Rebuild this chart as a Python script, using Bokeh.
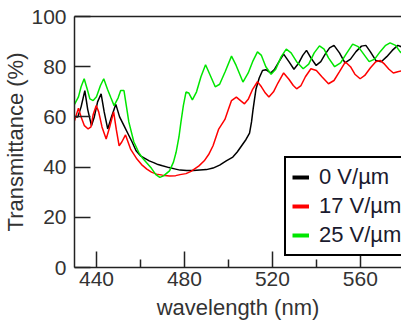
from bokeh.plotting import figure
from bokeh.models import Range1d, FixedTicker, LinearAxis, Legend, LegendItem
from bokeh.embed import file_html
from bokeh.resources import INLINE

# ---- data ----
wl_0 = [430, 431.5, 433, 434.7, 436, 437.7, 439, 440.5, 442.1, 443.5, 445.1, 446.8, 448.8, 450.5,
        452.5, 454.5, 456.2, 458, 460, 462, 464, 466, 468, 470, 473, 476, 478, 481, 484, 487, 490,
        493, 496, 499, 502, 504, 506, 508, 509.6, 510.5, 511.2, 512.5, 514, 515.5, 517, 519.2, 521,
        523, 525.1, 527.5, 529.8, 532, 533.8, 535.5, 537.5, 539.9, 542, 544, 546, 548, 550.5, 553,
        555.5, 558, 560.5, 562.5, 564.5, 567, 569.5, 572, 574.5, 577, 580]
t_0 = [60, 60, 64, 70.5, 63, 56.5, 60, 66, 69.2, 62, 55.2, 60, 65, 60,
       56.5, 53, 50, 46.5, 44.5, 43.5, 42.5, 41.8, 41, 40.5, 39.8, 39.2, 38.8, 38.6, 38.6, 38.8, 39,
       39.6, 40.8, 42.5, 44, 46, 48.5, 51, 53.5, 58, 63, 71, 75.5, 78.5, 78.8, 77.5, 79,
       82, 85, 82, 79, 81.5, 84.5, 86.5, 83.5, 80.5, 82, 85, 87.5, 88.5, 85.5, 81.5,
       83, 86, 88.2, 88.5, 86, 82.5, 82, 84, 86.5, 88.5, 87.5]

wl_17 = [430, 431.8, 433, 434.5, 436.2, 437.5, 438.5, 439.9, 441, 442.5, 444.4, 446, 447.8, 449,
         450.3, 451.5, 453.2, 455.5, 458.4, 460.5, 462.9, 465, 467.3, 470, 473.2, 476, 478, 480.7,
         483, 486.6, 489, 491, 493, 495.5, 498.4, 500, 501.4, 503.6, 505.5, 507.3, 509, 511, 513.2,
         515, 516.8, 518.4, 520.5, 522.5, 525.1, 527.5, 529.5, 531, 533, 535, 537.5, 540, 542.5,
         545.5, 548, 550.5, 553.2, 555.5, 557.5, 559.9, 562, 564.5, 567, 569, 571, 573, 575, 577, 580]
t_17 = [58.5, 63.5, 60, 56.5, 55.2, 56, 61, 64.5, 62, 56, 51.2, 56, 62, 55,
        48.5, 50, 52.8, 47.2, 43.2, 41, 39.2, 38, 37.2, 36.8, 36.5, 36.6, 37, 37.4,
        38.3, 40.5, 42.5, 45, 48.5, 55, 59, 63, 66.5, 67.9, 66.5, 65.2, 67, 71, 74,
        72, 69.5, 67.9, 70, 73.5, 77.5, 75, 72.5, 71.2, 72.5, 76, 79.2, 78.5, 76,
        73.2, 74.5, 78, 81.9, 80, 77, 75.2, 76.5, 79.5, 82, 82.5, 81, 79, 77.5, 78, 78.5]

wl_25 = [430, 431.8, 433, 434.4, 435.8, 437, 438.5, 440, 441.8, 443.3, 445, 446.6, 448, 449.8,
         451, 452.5, 454, 454.7, 457, 459.2, 461, 463, 465, 467, 468.8, 470.5, 473.2, 475, 476.2,
         477.5, 478.4, 479.5, 480.7, 482, 483.6, 485.5, 487.5, 489.6, 491.5, 494, 496, 498.5,
         501.4, 503.5, 506.6, 509, 511, 513.2, 515, 517, 519.4, 521.5, 524, 526.3, 528.5, 531,
         534, 536.5, 539, 541.4, 543.5, 545.5, 548.3, 551, 553.5, 556.5, 559, 561.5, 564, 566.5,
         569, 571.5, 573.5, 576, 578, 580]
t_25 = [65, 68, 72, 75.2, 71, 67.2, 66.5, 68, 72.5, 75.2, 71, 67.5, 64.5, 67.5,
        70.5, 70.5, 62, 58, 50, 45.9, 43.5, 41.5, 39.5, 37, 35.9, 36.5, 38.5, 42, 45.9,
        52, 57.9, 64.5, 69.9, 69.5, 66.8, 70, 76, 80.8, 77, 72, 73, 78,
        84.2, 80.5, 73.9, 77.5, 82, 85.9, 84.5, 80, 77, 79, 84, 87, 85.5, 82,
        79.2, 81, 85.5, 88.3, 87, 83.5, 80, 81.5, 85, 89, 88, 85, 82, 83,
        86, 88.5, 89.5, 88.5, 86, 84.5]

series_labels = ["0 V/\u00b5m", "17 V/\u00b5m", "25 V/\u00b5m"]
series_colors = ["#000000", "#ff0000", "#00e600"]
x_ticks = [440, 480, 520, 560]
x_minor = [460, 500, 540, 580]
y_ticks = [0, 20, 40, 60, 80, 100]

FONT = "Liberation Sans"
TXT = "#333333"

p = figure(width=401, height=322, output_backend="svg", toolbar_location=None,
           x_range=Range1d(430, 578.7), y_range=Range1d(0, 100),
           min_border_left=68, min_border_right=0, min_border_top=16, min_border_bottom=52,
           background_fill_color="white", border_fill_color="white")
p.outline_line_color = None
p.xgrid.visible = False
p.ygrid.visible = False

for ax in (p.xaxis[0], p.yaxis[0]):
    ax.axis_line_color = "#222222"
    ax.axis_line_width = 1.5
    ax.major_tick_line_color = "#222222"
    ax.major_tick_line_width = 1.5
    ax.minor_tick_line_color = "#222222"
    ax.minor_tick_line_width = 1.5
    ax.major_tick_out = 0
    ax.minor_tick_out = 0
    ax.major_tick_in = 16
    ax.major_label_text_font = FONT
    ax.major_label_text_font_size = "21px"
    ax.major_label_text_color = TXT
    ax.axis_label_text_font = FONT
    ax.axis_label_text_font_size = "22px"
    ax.axis_label_text_font_style = "normal"
    ax.axis_label_text_color = TXT

p.xaxis.ticker = FixedTicker(ticks=x_ticks, minor_ticks=x_minor)
p.xaxis.minor_tick_in = 8
p.xaxis.major_label_standoff = 4
p.xaxis.axis_label = "wavelength (nm)"
p.xaxis.axis_label_standoff = 6

p.yaxis.ticker = FixedTicker(ticks=y_ticks, minor_ticks=[])
p.yaxis.minor_tick_in = 0
p.yaxis.major_label_standoff = 8
p.yaxis.axis_label = "Transmittance (%)"
p.yaxis.axis_label_standoff = 0

top = LinearAxis(ticker=FixedTicker(ticks=[], minor_ticks=[]), axis_line_color="#222222",
                 axis_line_width=1.5, major_tick_in=0, major_tick_out=0,
                 minor_tick_in=0, minor_tick_out=0, major_label_standoff=0)
p.add_layout(top, "above")

data = [(wl_0, t_0), (wl_17, t_17), (wl_25, t_25)]
items = []
for (xs, ys), lab, col in zip(data, series_labels, series_colors):
    p.line(xs, ys, line_color=col, line_width=1.5)
    proxy = p.line([float("nan"), float("nan")], [float("nan"), float("nan")],
                   line_color=col, line_width=4)
    items.append(LegendItem(label=lab, renderers=[proxy]))

legend = Legend(items=items, location=(210, 11), orientation="vertical",
                border_line_color="black", border_line_width=2, border_line_alpha=1,
                background_fill_color="white", background_fill_alpha=1,
                label_text_font=FONT, label_text_font_size="22px", label_text_color="#1a1a2e",
                glyph_width=17, glyph_height=24, label_height=24, label_standoff=10,
                spacing=3, padding=6, margin=0)
p.add_layout(legend)

open("out.html", "w").write(file_html(p, INLINE))
